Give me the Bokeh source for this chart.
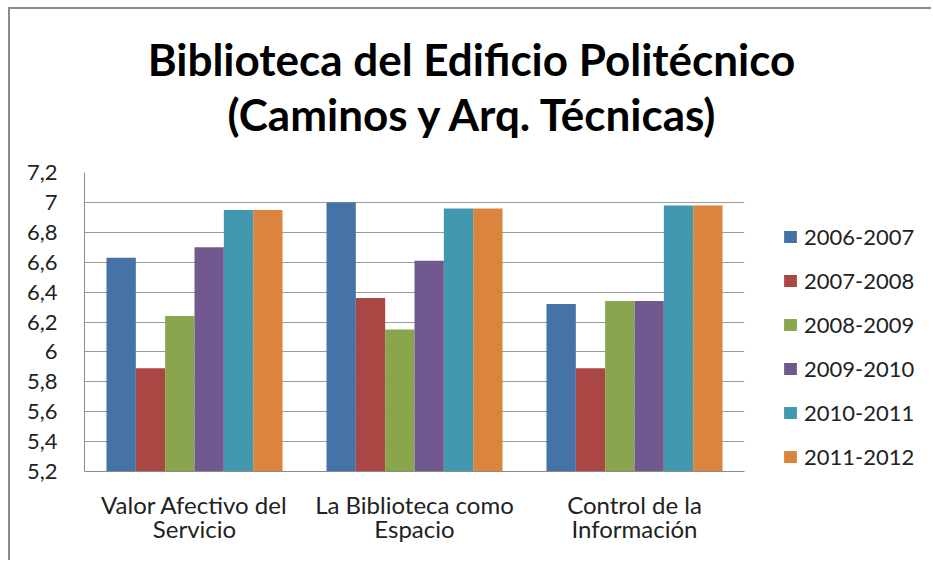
from bokeh.plotting import figure
from bokeh.models import (ColumnDataSource, FactorRange, Range1d, Legend, LegendItem,
                          FixedTicker, CategoricalAxis, Spacer, Div)
from bokeh.layouts import column, row
from bokeh.transform import dodge
from bokeh.embed import file_html
from bokeh.resources import INLINE

# ---------------- data ----------------
category_labels = ["Valor Afectivo del\nServicio", "La Biblioteca como\nEspacio", "Control de la\nInformación"]
years = ["2006-2007", "2007-2008", "2008-2009", "2009-2010", "2010-2011", "2011-2012"]
v_2006_2007 = [6.63, 7.00, 6.32]
v_2007_2008 = [5.89, 6.36, 5.89]
v_2008_2009 = [6.24, 6.15, 6.34]
v_2009_2010 = [6.70, 6.61, 6.34]
v_2010_2011 = [6.95, 6.96, 6.98]
v_2011_2012 = [6.95, 6.96, 6.98]
y_ticks = [5.2, 5.4, 5.6, 5.8, 6.0, 6.2, 6.4, 6.6, 6.8, 7.0, 7.2]
y_tick_labels = ["5,2", "5,4", "5,6", "5,8", "6", "6,2", "6,4", "6,6", "6,8", "7", "7,2"]
title_line1 = "Biblioteca del Edificio Politécnico"
title_line2 = "(Caminos y Arq. Técnicas)"

series = [v_2006_2007, v_2007_2008, v_2008_2009, v_2009_2010, v_2010_2011, v_2011_2012]
colors = ["#4572A7", "#AA4643", "#89A54E", "#71588F", "#4198AF", "#DB843D"]

lines1 = [l.split("\n")[0] for l in category_labels]
lines2 = [l.split("\n")[1] for l in category_labels]

source = ColumnDataSource(dict(cat=lines1, **{y: s for y, s in zip(years, series)}))

FONT = "Lato"
TXT = "#222222"
BORDER = "2px solid #8a8a8a"
MB_TOP, MB_BOTTOM = 15, 89

# ---------------- title (HTML block above the plot) ----------------
title_div = Div(
    text=('<div style="width:923px;text-align:center;font-family:Lato;font-size:44px;'
          'font-weight:bold;line-height:55px;padding-top:23px;color:#000;">'
          f'{title_line1}<br>{title_line2}</div>'),
    width=923, height=150, margin=0,
    styles={"border-top": BORDER, "border-left": BORDER, "background-color": "white"})

# ---------------- plot ----------------
p = figure(width=744, height=403, x_range=FactorRange(*lines1),
           y_range=Range1d(5.2, 7.2), output_backend="svg", toolbar_location=None,
           min_border_left=74, min_border_right=10, min_border_top=MB_TOP,
           min_border_bottom=MB_BOTTOM,
           background_fill_color="white", border_fill_color="white")
p.styles = {"border-left": BORDER}
p.outline_line_color = None
p.extra_x_ranges = {"line2": FactorRange(*lines2)}

group_width = 0.8
bar_w = group_width / len(years)
for i, (yr, col) in enumerate(zip(years, colors)):
    off = (i - (len(years) - 1) / 2) * bar_w
    p.vbar(x=dodge("cat", off, range=p.x_range), top=yr, bottom=5.2, width=bar_w,
           source=source, fill_color=col, line_color=None)

# y axis
p.yaxis.ticker = FixedTicker(ticks=y_ticks)
p.yaxis.major_label_overrides = {t: l for t, l in zip(y_ticks, y_tick_labels)}
p.yaxis.major_tick_out = 0
p.yaxis.major_tick_in = 0
p.yaxis.minor_tick_line_color = None
p.yaxis.major_label_standoff = 27
p.yaxis.axis_line_color = "#8a8a8a"
p.yaxis.major_label_text_font = FONT
p.yaxis.major_label_text_font_size = "22px"
p.yaxis.major_label_text_color = TXT

# x axis: first line of each category label
xa = p.xaxis[0]
xa.major_tick_out = 0
xa.major_tick_in = 0
xa.axis_line_color = "#8a8a8a"
xa.major_label_standoff = 18
xa.major_label_text_font = FONT
xa.major_label_text_font_size = "24px"
xa.major_label_text_color = TXT

# second line of each category label
xb = CategoricalAxis(x_range_name="line2", major_tick_out=0, major_tick_in=0,
                     axis_line_color=None, major_label_standoff=-8,
                     major_label_text_font=FONT, major_label_text_font_size="24px",
                     major_label_text_color=TXT)
p.add_layout(xb, "below")

p.xgrid.grid_line_color = None
p.ygrid.grid_line_color = "#9a9a9a"
p.ygrid.grid_line_width = 1

# ---------------- legend (own canvas to the right of the plot) ----------------
pl = figure(width=179, height=403, x_range=Range1d(0, 1), y_range=Range1d(0, 1),
            output_backend="svg", toolbar_location=None,
            min_border_left=0, min_border_right=0, min_border_bottom=MB_BOTTOM,
            min_border_top=MB_TOP, x_axis_location=None, y_axis_location=None,
            background_fill_color="white", border_fill_color="white")
pl.outline_line_color = None
pl.grid.grid_line_color = None
items = []
for yr, col in zip(years, colors):
    # zero-area swatch renderer: only its legend square is visible
    r = pl.vbar(x=[0.5], top=[0], bottom=[0], width=0, fill_color=col, line_color=None)
    items.append(LegendItem(label=yr, renderers=[r]))
legend = Legend(items=items, location=(30, 1), orientation="vertical",
                glyph_width=16, glyph_height=15, label_standoff=6,
                label_height=26, spacing=17, padding=0, margin=0,
                border_line_color=None, background_fill_alpha=0,
                label_text_font=FONT, label_text_font_size="22px",
                label_text_color=TXT)
pl.add_layout(legend)

layout = column(Spacer(height=7), row(Spacer(width=8), column(title_div, row(p, pl))))
open("out.html", "w").write(file_html(layout, INLINE))
